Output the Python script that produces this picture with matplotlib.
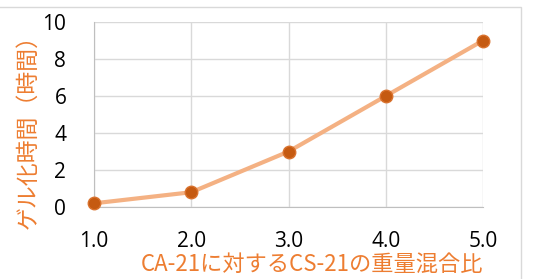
import matplotlib.pyplot as plt
from matplotlib.patches import Rectangle

# data
ratio = [1.0, 2.0, 3.0, 4.0, 5.0]
gel_hours = [0.2, 0.8, 3.0, 6.0, 9.0]
x_ticks = [1.0, 2.0, 3.0, 4.0, 5.0]
y_ticks = [0, 2, 4, 6, 8, 10]

orange = '#ED7D31'
line_col = '#F4B183'
marker_col = '#C55A11'
grid_col = '#D9D9D9'

fig = plt.figure(figsize=(5.47, 2.79), dpi=100)
ax = fig.add_axes([0.172, 0.258, 0.711, 0.663])

ax.plot(ratio, gel_hours, color=line_col, lw=3.0, marker='o', ms=9,
        mfc=marker_col, mec='#D9722E', mew=1.0, zorder=3, clip_on=False)

ax.set_xlim(1.0, 5.0)
ax.set_ylim(0, 10)
ax.set_xticks(x_ticks)
ax.set_xticklabels([f'{v:.1f}' for v in x_ticks])
ax.set_yticks(y_ticks)
ax.grid(True, color=grid_col, lw=1.0)
ax.set_axisbelow(True)
for side in ['top', 'right']:
    ax.spines[side].set_visible(False)
for side in ['left', 'bottom']:
    ax.spines[side].set_color('#BFBFBF')
ax.tick_params(length=0, labelsize=15, colors='black')
ax.tick_params(axis='x', pad=17)
ax.tick_params(axis='y', pad=20)
for lab in ax.get_xticklabels() + ax.get_yticklabels():
    lab.set_family(['Open Sans', 'DejaVu Sans'])

jp = ['Noto Sans CJK JP', 'DejaVu Sans']
ax.set_xlabel('CA-21に対するCS-21の重量混合比', color=orange, fontsize=16,
              family=jp, labelpad=1)
ax.xaxis.set_label_coords(0.56, -0.25)
ax.set_ylabel('ゲル化時間（時間）', color=orange, fontsize=16.5, family=jp)
ax.yaxis.set_label_coords(-0.14, 0.44)

# outer chart frame (top and right edge visible)
fig.patches.append(Rectangle((-0.01, -0.05), 0.962, 1.025, transform=fig.transFigure,
                             fill=False, edgecolor='#D9D9D9', lw=1.0))

fig.savefig('out.png', dpi=100)
